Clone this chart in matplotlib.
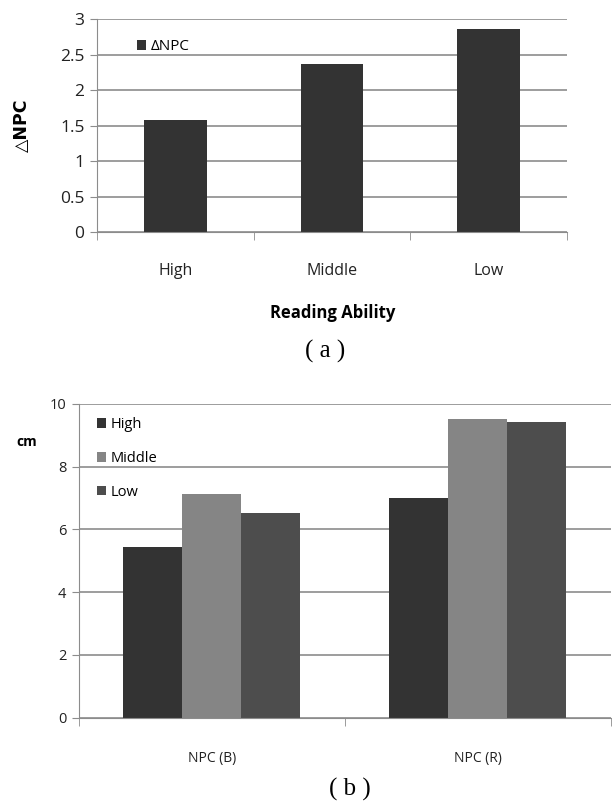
import matplotlib
matplotlib.use('Agg')
import matplotlib.pyplot as plt
import numpy as np

plt.rcParams['font.family'] = ['Open Sans', 'DejaVu Sans']

# (a) delta NPC by reading ability
ability = ['High', 'Middle', 'Low']
delta_npc = [1.58, 2.37, 2.86]
yticks_a = [0, 0.5, 1, 1.5, 2, 2.5, 3]
yticklabels_a = ['0', '0.5', '1', '1.5', '2', '2.5', '3']

# (b) NPC break / recovery per group
measures = ['NPC (B)', 'NPC (R)']
npc_high = [5.43, 6.99]
npc_middle = [7.13, 9.51]
npc_low = [6.53, 9.41]
yticks_b = [0, 2, 4, 6, 8, 10]

grid_col = '#8c8c8c'
fig = plt.figure(figsize=(6.12, 8.09), dpi=100)

def style_axes(ax, n):
    ax.set_xlim(-0.5, n - 0.5)
    for s in ['top', 'right']:
        ax.spines[s].set_visible(False)
    ax.spines['left'].set_color(grid_col)
    ax.spines['bottom'].set_color(grid_col)
    ax.yaxis.grid(True, color=grid_col, linewidth=1.2)
    ax.set_axisbelow(True)
    ax.set_xticks(np.arange(n))
    ax.set_xticks(np.arange(n + 1) - 0.5, minor=True)
    ax.tick_params(axis='x', which='major', length=0, pad=22)
    ax.tick_params(axis='x', which='minor', length=6, color=grid_col, direction='out')
    ax.tick_params(axis='y', length=5, color=grid_col, pad=4)

# ---- (a)
ax1 = fig.add_axes([0.1585, 0.7132, 0.768, 0.2633])
x = np.arange(len(ability))
ax1.bar(x, delta_npc, width=0.4, color='#333333', label='ΔNPC')
style_axes(ax1, len(ability))
ax1.set_ylim(0, 3)
ax1.set_yticks(yticks_a)
ax1.set_yticklabels(yticklabels_a, fontsize=12.5, color='#222222')
ax1.set_xticklabels(ability, fontsize=11.5, color='#222222')
ax1.legend(loc='upper left', bbox_to_anchor=(0.055, 0.97), frameon=False,
           handlelength=0.6, handleheight=0.6, handletextpad=0.3, fontsize=11)
fig.text(0.036, 0.845, '△NPC', rotation=90, fontsize=12.5, fontweight='bold',
         ha='center', va='center', family=['DejaVu Sans'])
fig.text(0.543, 0.613, 'Reading Ability', fontsize=12, fontweight='bold',
         ha='center', va='center')
fig.text(0.531, 0.565, '( a )', fontsize=18, ha='center', va='center',
         family=['Liberation Serif'])

# ---- (b)
ax2 = fig.add_axes([0.129, 0.1129, 0.869, 0.3878])
x2 = np.arange(len(measures))
w = 0.222
ax2.bar(x2 - w, npc_high, width=w, color='#333333', label='High')
ax2.bar(x2, npc_middle, width=w, color='#858585', label='Middle')
ax2.bar(x2 + w, npc_low, width=w, color='#4d4d4d', label='Low')
style_axes(ax2, len(measures))
ax2.set_ylim(0, 10)
ax2.set_yticks(yticks_b)
ax2.set_yticklabels([str(v) for v in yticks_b], fontsize=10.5, color='#222222')
ax2.set_xticklabels(measures, fontsize=10, color='#222222')
ax2.tick_params(axis='x', which='major', pad=24)
ax2.legend(loc='upper left', bbox_to_anchor=(0.01, 1.0), frameon=False,
           handlelength=0.6, handleheight=0.6, handletextpad=0.3, fontsize=10.5,
           labelspacing=1.3)
fig.text(0.044, 0.454, 'cm', fontsize=10, fontweight='bold', ha='center', va='center')
fig.text(0.571, 0.024, '( b )', fontsize=18, ha='center', va='center',
         family=['Liberation Serif'])

fig.savefig('out.png', dpi=100)
